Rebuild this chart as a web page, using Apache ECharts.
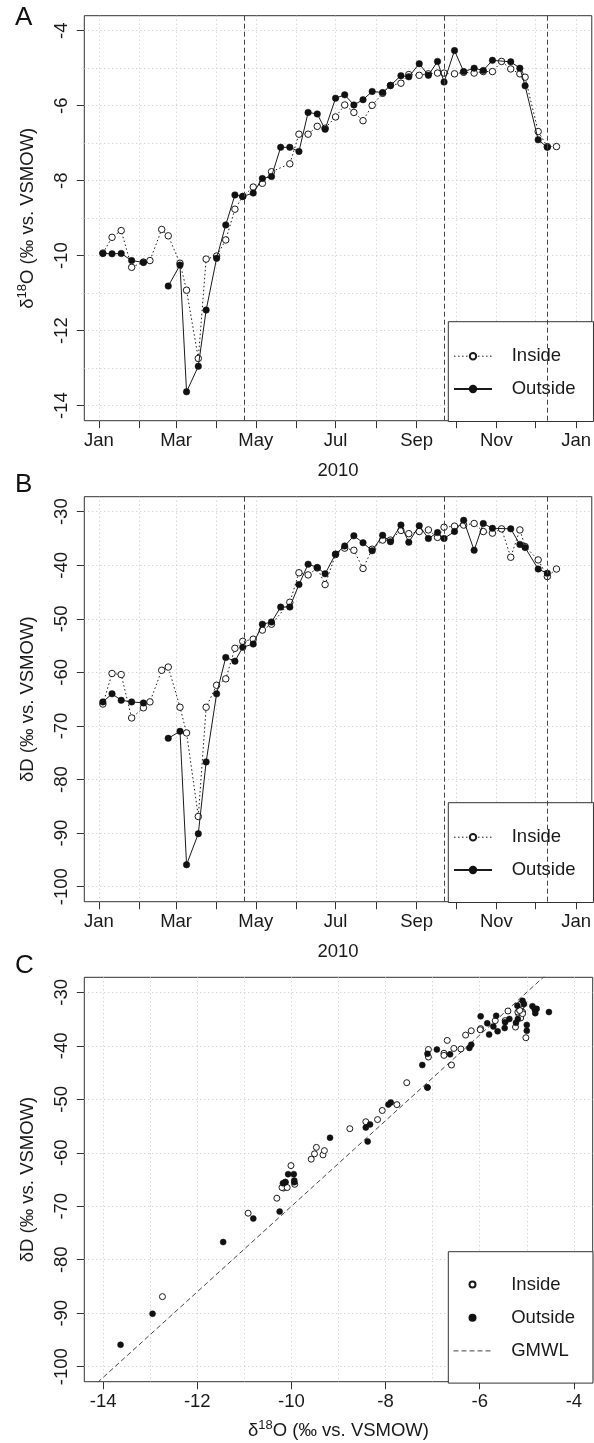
<!DOCTYPE html>
<html>
<head>
<meta charset="utf-8">
<title>Stable isotopes, 2010</title>
<script src="https://cdn.jsdelivr.net/npm/echarts@6/dist/echarts.min.js"></script>
<style>
  html, body { margin: 0; padding: 0; background: #fff; }
  #chart { width: 594px; height: 1443px; }
</style>
</head>
<body>
<div id="chart"></div>
<script>
// Weekly samples collected inside
const inDates = ['2010-01-04','2010-01-11','2010-01-18','2010-01-26','2010-02-04','2010-02-09','2010-02-18','2010-02-23',
  '2010-03-04','2010-03-09','2010-03-18','2010-03-24','2010-04-01','2010-04-08','2010-04-15','2010-04-21','2010-04-29',
  '2010-05-06','2010-05-13','2010-05-27','2010-06-03','2010-06-10','2010-06-17','2010-06-23','2010-07-01','2010-07-08',
  '2010-07-15','2010-07-22','2010-07-29','2010-08-06','2010-08-12','2010-08-20','2010-08-26','2010-09-03','2010-09-10',
  '2010-09-17','2010-09-22','2010-09-30','2010-10-07','2010-10-15','2010-10-22','2010-10-29','2010-11-05','2010-11-12',
  '2010-11-19','2010-11-23','2010-12-03','2010-12-10','2010-12-17'];
const inO = [-9.93,-9.51,-9.33,-10.31,-10.17,-10.13,-9.30,-9.47,
  -10.20,-10.92,-12.74,-10.09,-10.01,-9.58,-8.76,-8.42,-8.17,
  -8.07,-7.76,-7.55,-6.76,-6.76,-6.55,-6.60,-6.30,-5.98,
  -6.18,-6.40,-5.99,-5.67,-5.46,-5.40,-5.17,-5.19,-5.15,
  -5.13,-5.13,-5.15,-5.11,-5.13,-5.09,-5.09,-4.82,-5.02,
  -5.15,-5.24,-6.69,-7.09,-7.09];
const inD = [-65.9,-60.2,-60.4,-68.5,-66.6,-65.5,-59.6,-59.0,
  -66.5,-71.3,-86.9,-66.5,-62.4,-61.2,-55.5,-54.2,-53.8,
  -52.1,-51.0,-46.9,-41.4,-41.8,-40.5,-43.6,-38.0,-36.8,
  -37.2,-40.6,-37.0,-35.3,-35.3,-33.5,-34.1,-33.7,-33.4,
  -34.8,-32.9,-32.7,-32.5,-32.2,-33.7,-34.0,-33.2,-38.5,
  -33.4,-36.5,-39.0,-42.1,-40.7];

// Weekly samples collected outside (null = no sample)
const outDates = ['2010-01-04','2010-01-11','2010-01-18','2010-01-26','2010-02-04','2010-02-09','2010-02-23',
  '2010-03-04','2010-03-09','2010-03-18','2010-03-24','2010-04-01','2010-04-08','2010-04-15','2010-04-21','2010-04-29',
  '2010-05-06','2010-05-13','2010-05-20','2010-05-27','2010-06-03','2010-06-10','2010-06-17','2010-06-23','2010-07-01',
  '2010-07-08','2010-07-15','2010-07-22','2010-07-29','2010-08-06','2010-08-12','2010-08-20','2010-08-26','2010-09-03',
  '2010-09-10','2010-09-17','2010-09-22','2010-09-30','2010-10-07','2010-10-15','2010-10-22','2010-10-29','2010-11-12',
  '2010-11-19','2010-11-23','2010-12-03','2010-12-10'];
const outO = [-9.94,-9.95,-9.94,-10.13,-10.18,null,-10.81,
  -10.25,-13.63,-12.95,-11.45,-10.07,-9.18,-8.38,-8.42,-8.33,
  -7.94,-7.89,-7.11,-7.11,-7.22,-6.18,-6.22,-6.63,-5.80,
  -5.71,-5.98,-5.84,-5.62,-5.65,-5.46,-5.20,-5.23,-4.88,
  -5.19,-4.82,-5.37,-4.53,-5.09,-5.00,-5.06,-4.79,-4.83,
  -5.00,-5.47,-6.91,-7.11];
const outD = [-65.5,-64.0,-65.2,-65.5,-65.7,null,-72.3,
  -71.0,-95.9,-90.1,-76.7,-64.0,-57.2,-57.9,-55.3,-54.7,
  -51.0,-50.6,-47.8,-47.8,-43.6,-39.8,-40.4,-41.6,-37.9,
  -36.4,-34.5,-35.8,-37.3,-34.4,-35.6,-32.5,-35.7,-32.6,
  -35.0,-33.9,-35.0,-33.7,-31.6,-37.2,-32.2,-33.1,-33.2,
  -36.1,-36.7,-40.7,-41.5];

// Marked dates (vertical dashed lines)
const eventDates = ['2010-04-22','2010-09-22','2010-12-10'];

// Global meteoric water line, dD = 8 d18O + 10, given by two end points
const gmwlO = [-15, -3];
const gmwlD = [-110, -14];

// Axis ticks and labels
const monthTicks = ['2010-01-01','2010-02-01','2010-03-01','2010-04-01','2010-05-01','2010-06-01','2010-07-01',
  '2010-08-01','2010-09-01','2010-10-01','2010-11-01','2010-12-01','2011-01-01'];
const monthLabelDates = ['2010-01-01','2010-03-01','2010-05-01','2010-07-01','2010-09-01','2010-11-01','2011-01-01'];
const monthNames = ['Jan','Feb','Mar','Apr','May','Jun','Jul','Aug','Sep','Oct','Nov','Dec'];
const o18Labels = [-14, -12, -10, -8, -6, -4];
const o18Grid = [-14, -13, -12, -11, -10, -9, -8, -7, -6, -5, -4];
const dLabels = [-100, -90, -80, -70, -60, -50, -40, -30];

const DAY = 86400000;
const ts = s => { const p = s.split('-').map(Number); return Date.UTC(p[0], p[1] - 1, p[2]); };
const T0 = ts('2010-01-01');

const FONT = '"Liberation Sans", Arial, Helvetica, sans-serif';
const INK = '#1a1a1a';
const BOX = '#333';
const GRIDC = '#c6c6c6';
const FS = 18.5;
const DOT = [1.5, 2.5];
const DASH = [5, 3];

const text = { fontFamily: FONT, fontSize: FS, color: INK };
const richName = {
  fontFamily: FONT, fontSize: FS, color: INK,
  rich: {
    t: { fontFamily: FONT, fontSize: FS, color: INK, lineHeight: 24 },
    s: { fontFamily: FONT, fontSize: 13, color: INK, lineHeight: 12, verticalAlign: 'top' }
  }
};
const O18NAME = '{t|δ}{s|18}{t|O (‰ vs. VSMOW)}';
const DNAME = '{t|δD (‰ vs. VSMOW)}';

const gridBox = (top, height) => ({
  left: 84.3, top: top, width: 508.4, height: height,
  show: true, borderColor: BOX, borderWidth: 1, backgroundColor: 'transparent'
});

// Date axis: a numeric axis over UTC milliseconds with monthly ticks
function dateAxis(gridIndex) {
  return {
    type: 'value', gridIndex: gridIndex, scale: true,
    min: T0 - 11.22 * DAY, max: T0 + 377 * DAY,
    axisLine: { show: false },
    axisTick: { show: true, length: 7.5, customValues: monthTicks.map(ts), lineStyle: { color: BOX, width: 1 } },
    axisLabel: {
      customValues: monthLabelDates.map(ts), margin: 10.5, ...text,
      formatter: v => monthNames[new Date(v).getUTCMonth()]
    },
    splitLine: { show: true, lineStyle: { color: GRIDC, width: 1, type: [1, 3] } },
    name: '2010', nameLocation: 'middle', nameGap: 40.5, nameTextStyle: { ...text }
  };
}

function valueAxis(gridIndex, min, max, ticks, opts) {
  return Object.assign({
    type: 'value', gridIndex: gridIndex, min: min, max: max,
    axisLine: { show: false },
    axisTick: { show: true, length: 7.5, customValues: ticks, lineStyle: { color: BOX, width: 1 } },
    axisLabel: { customValues: ticks, ...text },
    splitLine: { show: false }
  }, opts);
}

// A second, label-free axis that only draws the finer dotted grid
function gridOnlyAxis(gridIndex, min, max, values) {
  return {
    type: 'value', gridIndex: gridIndex, min: min, max: max,
    axisLine: { show: false },
    axisTick: { show: false, customValues: values },
    axisLabel: { show: false },
    splitLine: { show: true, lineStyle: { color: GRIDC, width: 1, type: [1, 3] } }
  };
}

const eventLines = {
  silent: true, symbol: ['none', 'none'], label: { show: false },
  lineStyle: { color: '#444', width: 1, type: DASH },
  emphasis: { disabled: true },
  data: eventDates.map(d => ({ xAxis: ts(d) }))
};

const insideLine = (xi, yi, vals) => ({
  name: 'Inside', type: 'line', xAxisIndex: xi, yAxisIndex: yi,
  data: inDates.map((d, i) => [ts(d), vals[i]]),
  symbol: 'circle', symbolSize: 6.5, showSymbol: true, showAllSymbol: true,
  lineStyle: { color: INK, width: 1, type: DOT },
  itemStyle: { color: '#fff', borderColor: INK, borderWidth: 1 },
  emphasis: { disabled: true }, z: 2
});
const outsideLine = (xi, yi, vals) => ({
  name: 'Outside', type: 'line', xAxisIndex: xi, yAxisIndex: yi,
  data: outDates.map((d, i) => [ts(d), vals[i]]),
  connectNulls: false,
  symbol: 'circle', symbolSize: 6.5, showSymbol: true, showAllSymbol: true,
  lineStyle: { color: INK, width: 1, type: 'solid' },
  itemStyle: { color: '#111', borderColor: '#111', borderWidth: 0.5 },
  emphasis: { disabled: true }, z: 3,
  markLine: eventLines
});

const legendBase = {
  orient: 'vertical', itemWidth: 38, selectedMode: false,
  borderColor: BOX, borderWidth: 1, borderRadius: 0, backgroundColor: '#fff',
  textStyle: { ...text, padding: [0, 0, 0, 14.7] }
};

const titleStyle = { fontFamily: FONT, fontSize: 26, fontWeight: 'normal', color: '#111' };

const option = {
  animation: false,
  backgroundColor: '#fff',
  title: [
    { text: 'A', left: 15, top: 5, padding: 0, textStyle: titleStyle },
    { text: 'B', left: 15, top: 472, padding: 0, textStyle: titleStyle },
    { text: 'C', left: 15, top: 952.6, padding: 0, textStyle: titleStyle }
  ],
  grid: [gridBox(15.7, 405), gridBox(496.7, 405), gridBox(977.3, 404.4)],
  xAxis: [
    dateAxis(0),
    dateAxis(1),
    valueAxis(2, -14.4, -3.6, o18Labels, {
      axisLabel: { customValues: o18Labels, margin: 11, ...text },
      name: O18NAME, nameLocation: 'middle', nameGap: 37.3, nameTextStyle: richName
    }),
    gridOnlyAxis(2, -14.4, -3.6, o18Grid)
  ],
  yAxis: [
    valueAxis(0, -14.4, -3.6, o18Labels, {
      axisLabel: { customValues: o18Labels, rotate: 90, margin: 12.5, ...text },
      name: O18NAME, nameLocation: 'middle', nameGap: 44.8, nameTextStyle: richName
    }),
    gridOnlyAxis(0, -14.4, -3.6, o18Grid),
    valueAxis(1, -102.8, -27.2, dLabels, {
      axisLabel: { customValues: dLabels, rotate: 90, margin: 12.5, ...text },
      splitLine: { show: true, lineStyle: { color: GRIDC, width: 1, type: [1, 3] } },
      name: DNAME, nameLocation: 'middle', nameGap: 44.8, nameTextStyle: richName
    }),
    valueAxis(2, -102.8, -27.2, dLabels, {
      axisLabel: { customValues: dLabels, rotate: 90, margin: 12.5, ...text },
      splitLine: { show: true, lineStyle: { color: GRIDC, width: 1, type: [1, 3] } },
      name: DNAME, nameLocation: 'middle', nameGap: 44.8, nameTextStyle: richName
    })
  ],
  legend: [
    Object.assign({}, legendBase, {
      left: 448.3, top: 321.7, itemHeight: 8, itemGap: 13.8, padding: [25, 18, 23, 4.7],
      data: [{ name: 'Inside', lineStyle: { type: DOT, width: 1, color: INK } }, { name: 'Outside' }]
    }),
    Object.assign({}, legendBase, {
      left: 448.3, top: 802.7, itemHeight: 8, itemGap: 13.8, padding: [25, 18, 23, 4.7],
      data: [{ name: 'Inside', lineStyle: { type: DOT, width: 1, color: INK } }, { name: 'Outside' }]
    }),
    Object.assign({}, legendBase, {
      left: 448.3, top: 1251.7, itemHeight: 6, itemGap: 14.2, padding: [23.3, 18, 22.7, 4.7],
      data: [
        { name: 'Inside', icon: 'circle' },
        { name: 'Outside', icon: 'circle' },
        { name: 'GMWL', itemStyle: { opacity: 0 }, lineStyle: { type: DASH, width: 1, color: '#444' } }
      ]
    })
  ],
  series: [
    insideLine(0, 0, inO),
    outsideLine(0, 0, outO),
    insideLine(1, 2, inD),
    outsideLine(1, 2, outD),
    {
      name: 'GMWL', type: 'line', xAxisIndex: 2, yAxisIndex: 3,
      data: gmwlO.map((o, i) => [o, gmwlD[i]]),
      symbol: 'none', clip: true,
      lineStyle: { color: '#444', width: 1, type: DASH },
      itemStyle: { color: '#444' },
      emphasis: { disabled: true }, z: 1
    },
    {
      name: 'Inside', type: 'scatter', xAxisIndex: 2, yAxisIndex: 3,
      data: inO.map((o, i) => [o, inD[i]]),
      symbol: 'circle', symbolSize: 6,
      itemStyle: { color: '#fff', borderColor: INK, borderWidth: 1, opacity: 1 },
      emphasis: { disabled: true }, z: 2
    },
    {
      name: 'Outside', type: 'scatter', xAxisIndex: 2, yAxisIndex: 3,
      data: outO.map((o, i) => [o, outD[i]]).filter(p => p[0] !== null && p[1] !== null),
      symbol: 'circle', symbolSize: 6,
      itemStyle: { color: '#111', borderColor: '#111', borderWidth: 0.5, opacity: 1 },
      emphasis: { disabled: true }, z: 3
    }
  ]
};

const chart = echarts.init(document.getElementById('chart'), null, { renderer: 'canvas' });
chart.setOption(option);
</script>
</body>
</html>
